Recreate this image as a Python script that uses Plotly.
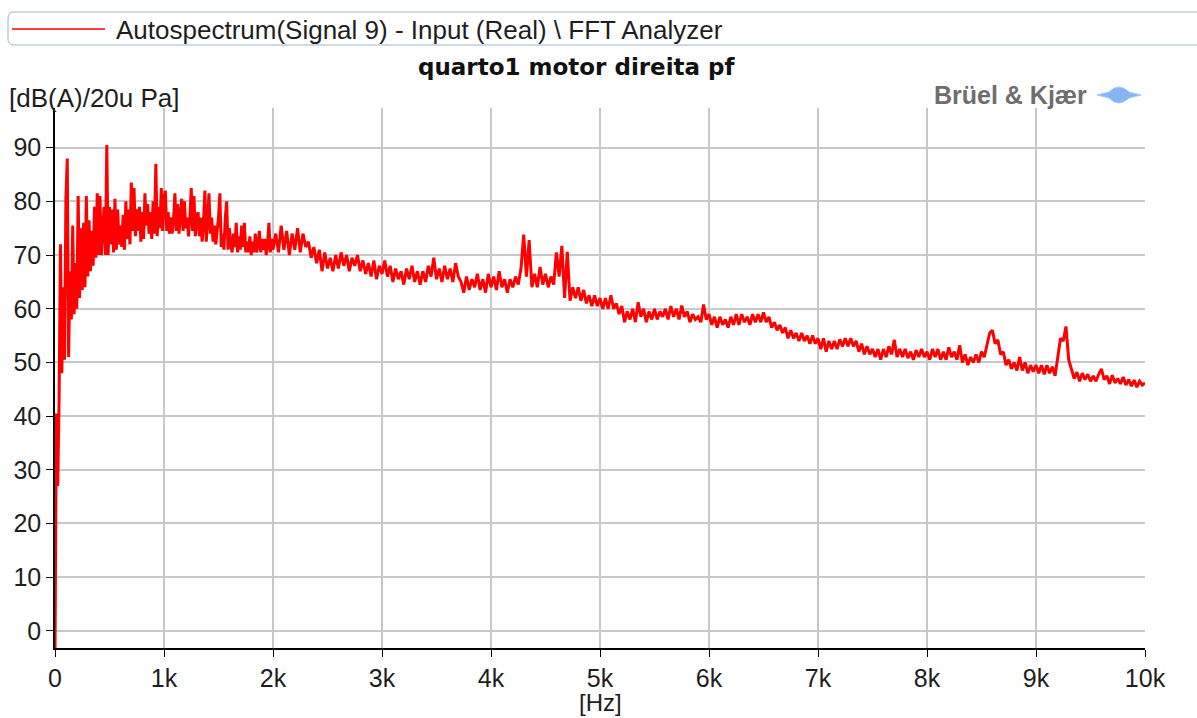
import numpy as np
import plotly.graph_objects as go

# FFT autospectrum, two frequency-resolution bands
DF_LOW = 12.5      # Hz, band 0 .. 2000 Hz
DF_HIGH = 25.0     # Hz, band 2025 .. 10000 Hz
HIGH_START = 2025.0

level_low = [
    -4, 40.5, 27, 43, 72, 48, 64, 50.5, 80.5, 88,
    51, 67, 58, 75.5, 59, 68.5, 60, 81, 62, 75,
    63.5, 76, 64, 81, 66, 76.5, 67, 74.5, 68, 79,
    69.5, 81.5, 70, 81, 70, 75.5, 79, 70, 90.5, 70,
    79, 72, 78.5, 70.5, 80.5, 71, 78.5, 72, 75.5, 71.5,
    77.5, 71, 80, 73, 78.5, 72, 83.5, 74.5, 82.5, 73.5,
    78.5, 74.5, 79, 72.5, 78, 73, 81.5, 75.5, 79.5, 74,
    78, 73, 80, 74, 87, 73.5, 79, 75, 82.5, 74.5,
    80.5, 82, 74.5, 78, 74, 77, 74, 76.5, 81.5, 74.5,
    79.5, 74, 77, 80.5, 74.5, 80, 75, 77, 73.5, 77,
    82.5, 74.5, 81, 73.5, 77, 78, 73.5, 77, 72.5, 76,
    82, 72.5, 76.5, 81.5, 74, 77, 72.5, 75.5, 72, 74,
    77, 81.5, 71.5, 74, 71, 77, 80, 71, 75, 72,
    70.5, 74, 71.5, 76, 70.5, 73.5, 71, 75.5, 71.5, 76,
    70.5, 72.5, 70.5, 73.5, 70, 72.5, 70.5, 74, 70.5, 72,
    74.5, 70.5, 73, 71, 73, 70, 72, 76, 70.5, 73,
    71,
]

level_high = [
    # 2025 .. 3000 Hz
    74, 70.5, 75.5, 71, 74.5, 70, 74, 71, 75, 70.5,
    74, 71.5, 72.5, 69.5, 71.5, 68.5, 71, 67, 70.5, 67.5,
    69.5, 67, 70, 67.5, 70.5, 68, 70, 67, 69.5, 68,
    70, 67, 69, 66.5, 68.5, 66, 69, 65.5, 68, 66.5,
    # 3025 .. 4000 Hz
    69, 66, 68, 65, 67.5, 65.5, 67, 64.5, 67.5, 65.5,
    68, 65, 67, 64.5, 67, 65, 68, 66, 69.5, 65.5,
    67.5, 65, 68, 65.5, 67.5, 65, 68.5, 66, 65, 63,
    66, 63.5, 65.5, 64, 66.5, 63.5, 65.5, 63, 66.5, 64,
    # 4025 .. 5000 Hz
    66, 63.5, 67, 64, 65.5, 63, 65.5, 64, 66, 64.5,
    67.5, 73.8, 66, 72.8, 64, 66.5, 64, 67.8, 64.5, 66.5,
    64, 66, 64.5, 70.5, 66, 71.7, 62, 70.6, 61.5, 64,
    62, 64, 61.5, 63.5, 61, 62.5, 60.5, 62.5, 60.5, 62,
    # 5025 .. 6000 Hz
    60, 62, 60, 62.5, 60, 61, 59, 60.5, 57.5, 59.5,
    58, 60, 57.5, 61.2, 58.5, 60, 57.5, 59.5, 58, 60,
    58, 59.5, 58.5, 60, 58, 60.5, 58.5, 60, 58, 60.6,
    58.5, 59.5, 57.5, 59, 58, 58.5, 57.5, 60.8, 58, 59,
    # 6025 .. 7000 Hz
    57, 58.5, 56.5, 58.5, 57, 58, 56.5, 58.5, 57, 59,
    57, 59, 57.5, 58.5, 57, 59, 57.5, 59, 57.5, 59.3,
    57.5, 58.5, 56.5, 57.5, 56, 57, 55.5, 56.5, 54.5, 56,
    54.5, 55.5, 54, 55.5, 54, 55, 53.5, 55, 53.5, 54.5,
    # 7025 .. 8000 Hz
    52.5, 54.5, 52, 54, 52.5, 54, 52.5, 54.3, 53, 54.5,
    53, 54.5, 53, 54, 52, 53.5, 51.5, 53, 51.5, 52.5,
    51, 52.5, 50.5, 52.5, 51, 53, 51.5, 54.2, 51, 52.5,
    51, 52.5, 50.8, 52, 50.5, 52.3, 51, 52.5, 51, 52,
    # 8025 .. 9000 Hz
    50.5, 52.5, 51, 52.5, 50.5, 52, 50.5, 52.8, 51, 52,
    50.5, 53.2, 50, 51.5, 49.5, 51, 50, 51.5, 50, 52,
    51, 53.5, 55.5, 56, 53.5, 54.2, 51.5, 52, 49.5, 50.5,
    48.8, 50, 48.5, 51, 48.5, 50, 48, 49.5, 48.3, 49.5,
    # 9025 .. 10000 Hz
    48, 49.5, 47.8, 49.5, 48, 49.2, 47.5, 51, 54.5, 54,
    56.7, 50.5, 48.5, 47, 48.2, 46.5, 48, 46.8, 47.8, 46.5,
    47.5, 46.5, 47.8, 48.8, 46.8, 47.5, 46, 47.6, 46.2, 47,
    46, 47.3, 45.8, 46.8, 45.6, 46.7, 45.4, 46.5, 45.8, 46.2,
]

x_tick_vals = [0, 1000, 2000, 3000, 4000, 5000, 6000, 7000, 8000, 9000, 10000]
x_tick_text = ["0", "1k", "2k", "3k", "4k", "5k", "6k", "7k", "8k", "9k", "10k"]
y_tick_vals = [0, 10, 20, 30, 40, 50, 60, 70, 80, 90]

legend_label = "Autospectrum(Signal 9) - Input (Real) \\ FFT Analyzer"
chart_title = "quarto1 motor direita pf"
y_unit = "[dB(A)/20u Pa]"
x_unit = "[Hz]"

freq = np.concatenate([
    np.arange(len(level_low)) * DF_LOW,
    HIGH_START + np.arange(len(level_high)) * DF_HIGH,
])
level = np.array(level_low + level_high)

W, H = 1197, 718
ML, MR, MT, MB = 55, 52, 108, 70
PW, PH = W - ML - MR, H - MT - MB


def px(x):
    return (x - ML) / PW


def py(y):
    return (H - MB - y) / PH


FONT = "Liberation Sans"
TEXT = "#1e1e1e"
RED = "#ff0000"

fig = go.Figure()
fig.add_trace(go.Scatter(
    x=freq, y=level, mode="lines",
    line=dict(color=RED, width=3),
    showlegend=False, hoverinfo="x+y",
))

shapes = []
# legend frame with rounded corners
x0, x1, y0, y1, r = px(8), px(1205), py(12), py(45), 6
rx, ry = r / PW, r / PH
shapes.append(dict(
    type="path", xref="paper", yref="paper",
    path=(f"M {x0+rx},{y0} L {x1},{y0} L {x1},{y1} L {x0+rx},{y1} "
          f"Q {x0},{y1} {x0},{y1+ry} L {x0},{y0-ry} Q {x0},{y0} {x0+rx},{y0} Z"),
    line=dict(color="#9fb3c8", width=1), fillcolor="rgba(0,0,0,0)",
))
# legend line sample
shapes.append(dict(type="line", xref="paper", yref="paper",
                   x0=px(12), x1=px(105), y0=py(29), y1=py(29),
                   line=dict(color=RED, width=1.5)))
# logo emblem
cx, cy = 1119, 95
shapes.append(dict(
    type="path", xref="paper", yref="paper",
    path=(f"M {px(cx-22)},{py(cy)} L {px(cx-10)},{py(cy-3)} Q {px(cx)},{py(cy-13)} {px(cx+10)},{py(cy-3)} "
          f"L {px(cx+22)},{py(cy)} L {px(cx+10)},{py(cy+3)} Q {px(cx)},{py(cy+13)} {px(cx-10)},{py(cy+3)} Z"),
    line=dict(color="#a8c8f6", width=1), fillcolor="#86b4f4",
))

annotations = [
    dict(text=legend_label, x=px(114), y=py(30), xref="paper", yref="paper",
         xanchor="left", yanchor="middle", showarrow=False,
         font=dict(family=FONT, size=26, color=TEXT)),
    dict(text=f"<b>{chart_title}</b>", x=px(577), y=py(67), xref="paper", yref="paper",
         xanchor="center", yanchor="middle", showarrow=False,
         font=dict(family="DejaVu Sans", size=23, color="#111111")),
    dict(text=y_unit, x=px(7), y=py(98), xref="paper", yref="paper",
         xanchor="left", yanchor="middle", showarrow=False,
         font=dict(family=FONT, size=26, color=TEXT)),
    dict(text=x_unit, x=px(600), y=py(702), xref="paper", yref="paper",
         xanchor="center", yanchor="middle", showarrow=False,
         font=dict(family=FONT, size=24, color=TEXT)),
    dict(text="<b>Brüel & Kjær</b>", x=px(932), y=py(95), xref="paper", yref="paper",
         xanchor="left", yanchor="middle", showarrow=False,
         font=dict(family=FONT, size=25, color="#6e6e6e")),
]

fig.update_layout(
    width=W, height=H,
    margin=dict(l=ML, r=MR, t=MT, b=MB, autoexpand=False),
    paper_bgcolor="white", plot_bgcolor="white",
    shapes=shapes, annotations=annotations,
    font=dict(family=FONT, size=25, color=TEXT),
)
fig.update_xaxes(
    range=[0, 10000], tickvals=x_tick_vals, ticktext=x_tick_text,
    showgrid=True, gridcolor="#c8c8c8", gridwidth=2,
    showline=True, linecolor="black", linewidth=1.5,
    ticks="outside", ticklen=7, tickcolor="black", tickwidth=1,
    zeroline=False, tickfont=dict(family=FONT, size=25, color=TEXT),
)
fig.update_yaxes(
    range=[-3.2, 97.4], tickvals=y_tick_vals,
    showgrid=True, gridcolor="#c8c8c8", gridwidth=2,
    showline=True, linecolor="black", linewidth=1.5,
    ticks="outside", ticklen=7, tickcolor="black", tickwidth=1,
    zeroline=False, tickfont=dict(family=FONT, size=25, color=TEXT),
)

fig.write_html("out.html")
